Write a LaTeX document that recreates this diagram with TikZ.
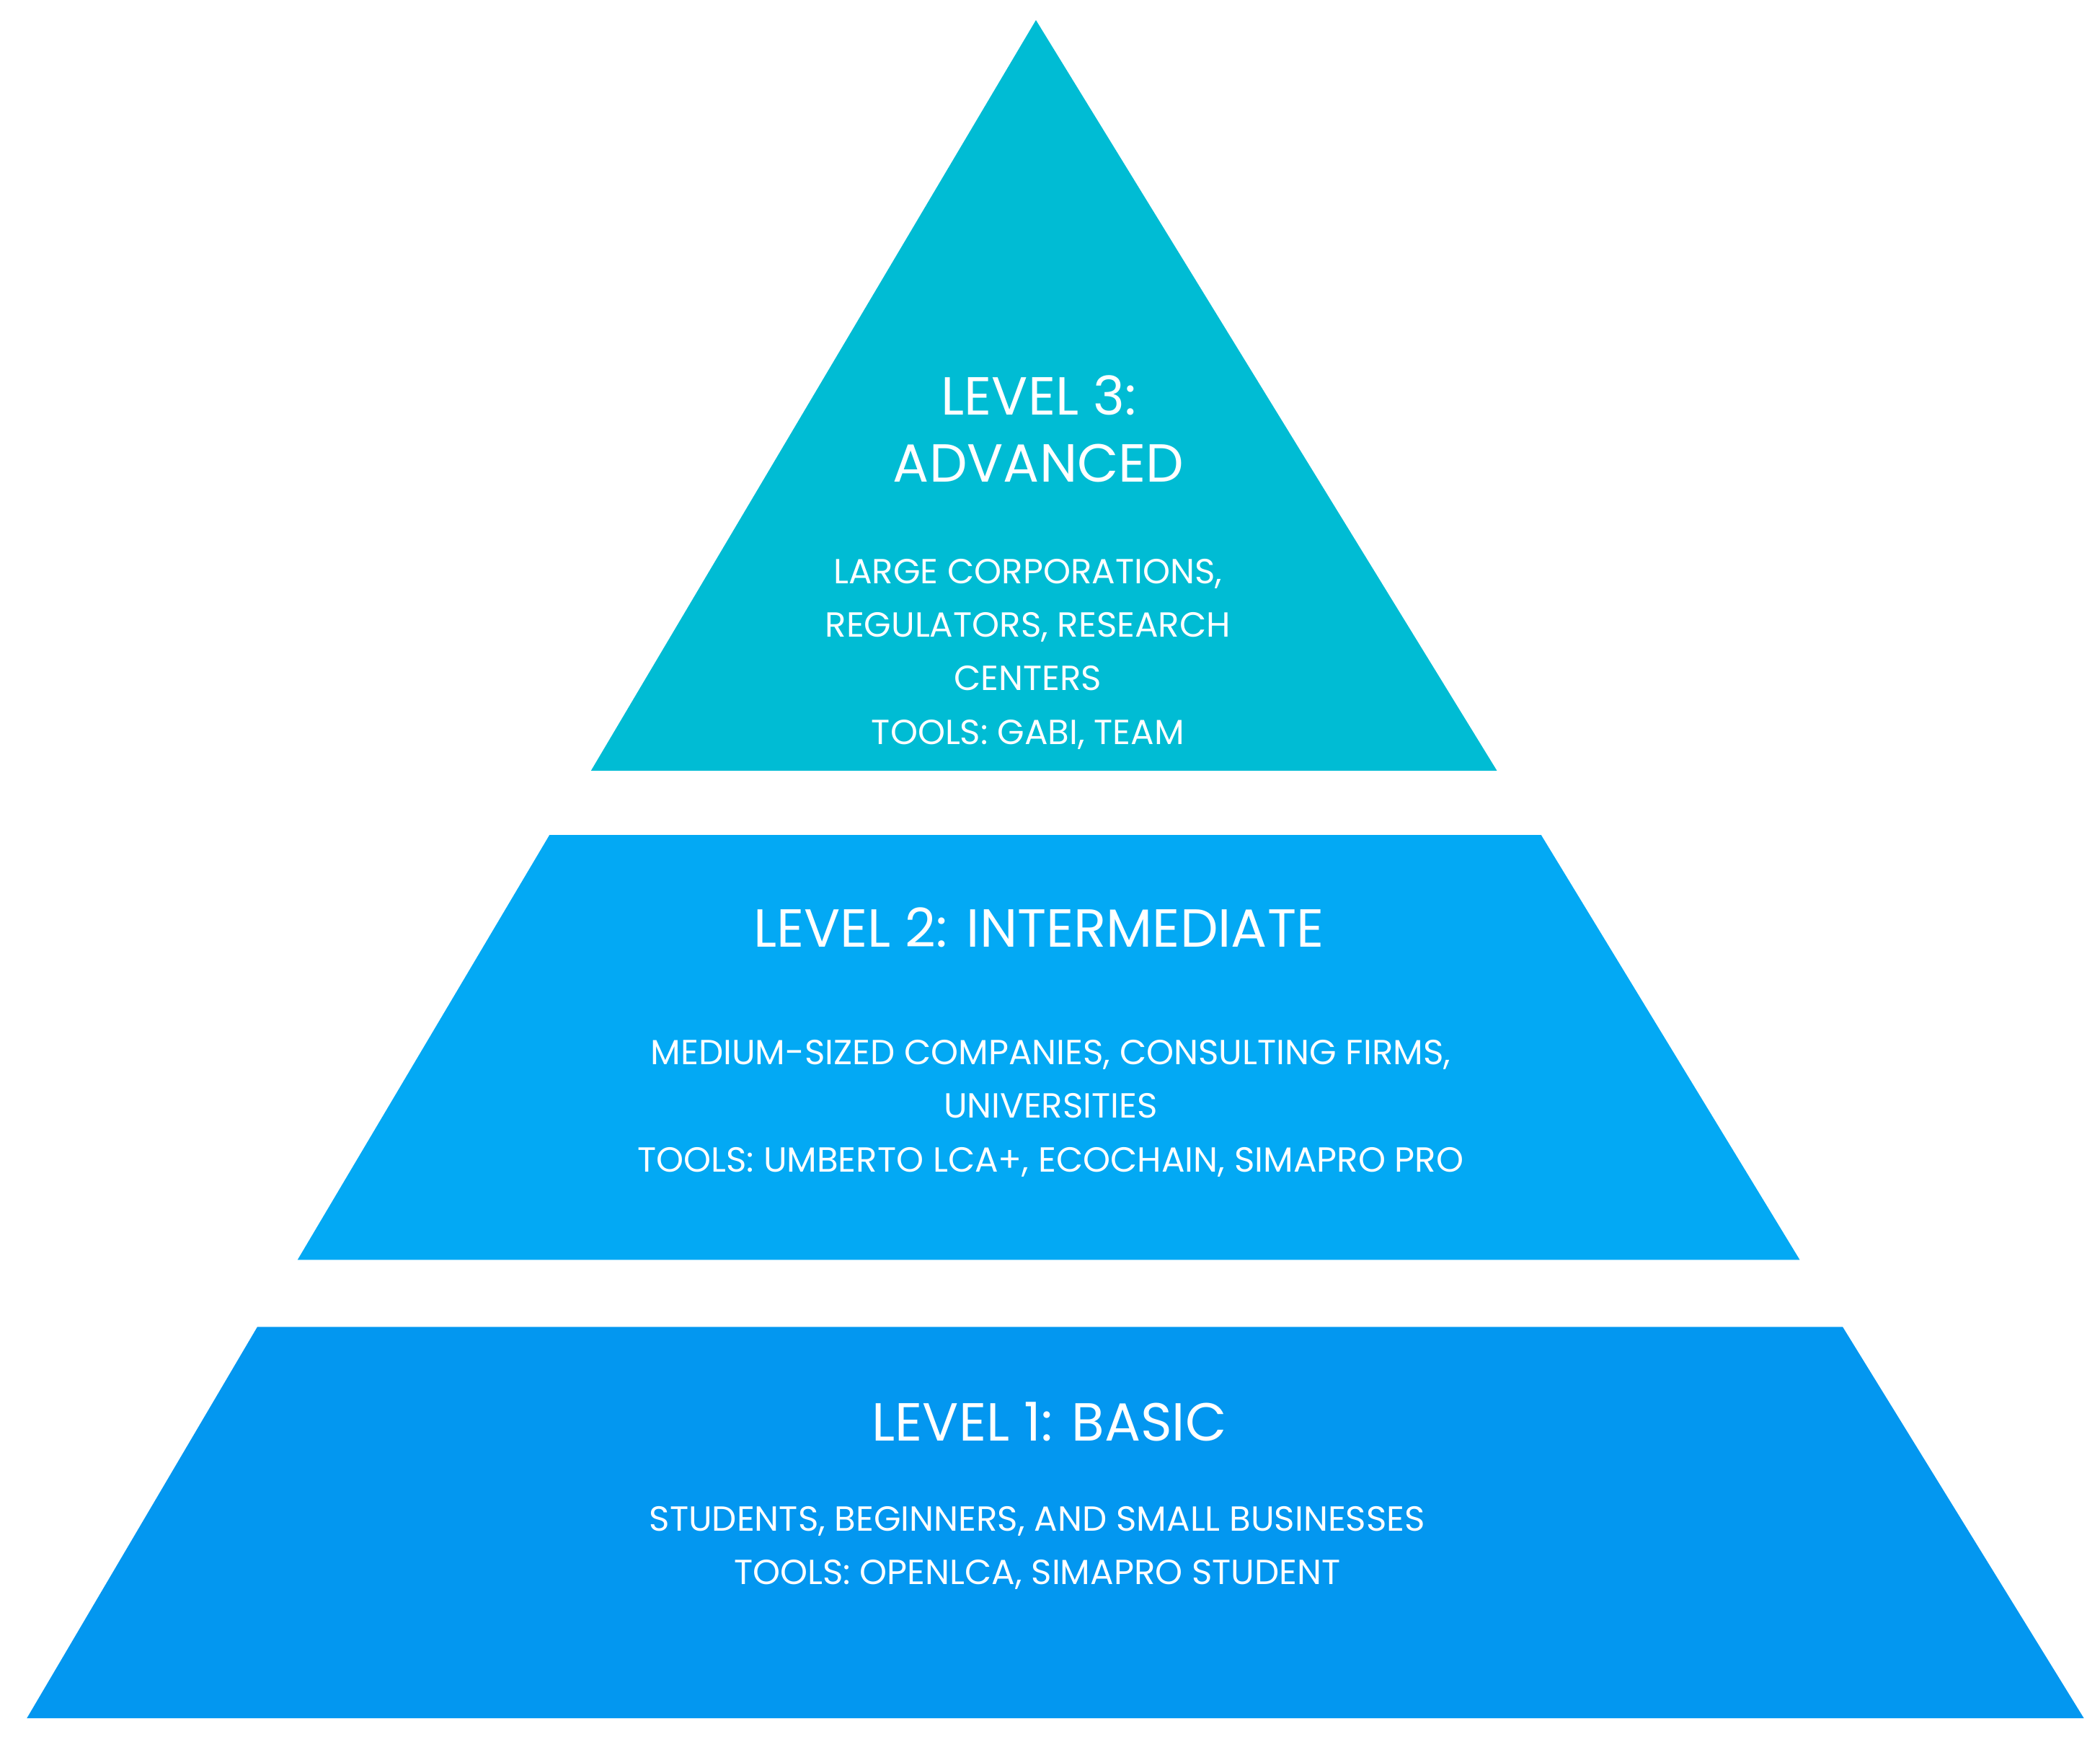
\documentclass[tikz,border=0pt]{standalone}
\usepackage{fontspec}
\setmainfont{Poppins}
\definecolor{cTop}{HTML}{00BCD4}
\definecolor{cMid}{HTML}{03A9F4}
\definecolor{cBot}{HTML}{0397F0}
\begin{document}
\begin{tikzpicture}[x=1pt,y=-1pt,
  title/.style={text=white,align=center,font=\fontsize{40}{50}\selectfont},
  sub/.style={text=white,align=center,font=\fontsize{26}{40}\selectfont}]
\useasboundingbox (0,0) rectangle (1567,1303);
\fill[cTop] (773,15) -- (1117,575) -- (441,575) -- cycle;
\fill[cMid] (410,623) -- (1150,623) -- (1343,940) -- (222,940) -- cycle;
\fill[cBot] (192,990) -- (1375,990) -- (1555,1282) -- (20,1282) -- cycle;
\node[title] (t3) at (775,320) {LEVEL 3:\\ADVANCED};
\node[sub] (s3) at (767,488) {LARGE CORPORATIONS,\\REGULATORS, RESEARCH\\CENTERS\\TOOLS: GABI, TEAM};
\node[title] (t2) at (775,692) {LEVEL 2: INTERMEDIATE};
\node[sub] (s2) at (784,827) {MEDIUM-SIZED COMPANIES, CONSULTING FIRMS,\\UNIVERSITIES\\TOOLS: UMBERTO LCA+, ECOCHAIN, SIMAPRO PRO};
\node[title] (t1) at (783,1061) {LEVEL 1: BASIC};
\node[sub] (s1) at (774,1155) {STUDENTS, BEGINNERS, AND SMALL BUSINESSES\\TOOLS: OPENLCA, SIMAPRO STUDENT};
\end{tikzpicture}
\end{document}
